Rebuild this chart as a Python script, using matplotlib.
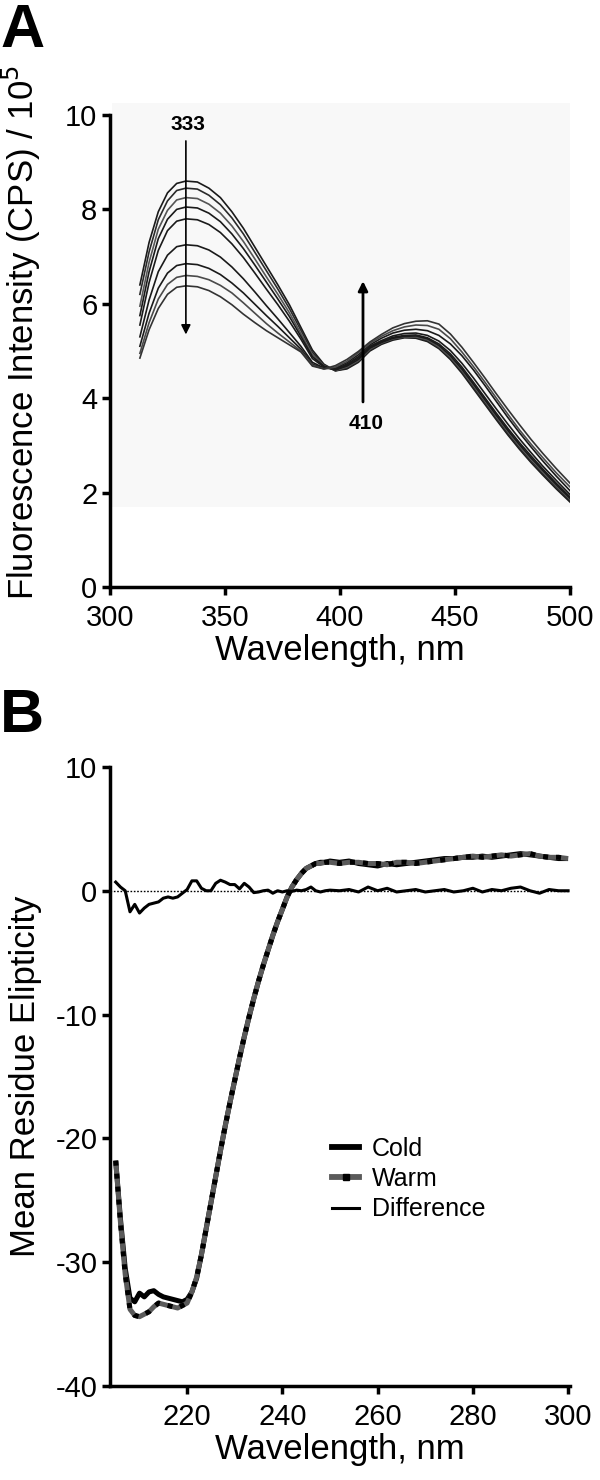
import matplotlib
matplotlib.use("Agg")
import matplotlib.pyplot as plt
from matplotlib.lines import Line2D

plt.rcParams['font.family'] = ['Liberation Sans', 'DejaVu Sans']
plt.rcParams['axes.unicode_minus'] = False

# ---------------- Panel A data: fluorescence titration ----------------
wl_a = [313, 317, 321, 325, 329, 333, 338, 343, 348, 353, 358, 363, 368, 373,
        378, 383, 388, 393, 398, 403, 408, 413, 418, 423, 428, 433, 438, 443,
        448, 453, 458, 463, 468, 473, 478, 483, 488, 494, 500]

fl_0 = [6.40, 7.30, 7.95, 8.35, 8.55, 8.60, 8.58, 8.45, 8.25, 7.95, 7.60, 7.20, 6.80, 6.40,
        5.98, 5.50, 5.02, 4.72, 4.58, 4.62, 4.76, 5.00, 5.14, 5.23, 5.28, 5.27, 5.20, 5.05,
        4.82, 4.53, 4.20, 3.87, 3.54, 3.22, 2.92, 2.64, 2.38, 2.08, 1.80]
fl_1 = [6.20, 7.10, 7.78, 8.18, 8.40, 8.45, 8.43, 8.30, 8.10, 7.82, 7.48, 7.09, 6.70, 6.31,
        5.90, 5.44, 4.97, 4.70, 4.58, 4.64, 4.78, 5.02, 5.16, 5.25, 5.29, 5.29, 5.22, 5.07,
        4.85, 4.56, 4.23, 3.90, 3.57, 3.25, 2.95, 2.67, 2.41, 2.11, 1.83]
fl_2 = [5.95, 6.88, 7.58, 7.98, 8.20, 8.25, 8.23, 8.11, 7.92, 7.65, 7.32, 6.95, 6.57, 6.20,
        5.81, 5.37, 4.92, 4.69, 4.59, 4.66, 4.80, 5.04, 5.17, 5.26, 5.30, 5.30, 5.24, 5.09,
        4.87, 4.59, 4.27, 3.94, 3.61, 3.29, 2.99, 2.71, 2.45, 2.14, 1.86]
fl_3 = [5.75, 6.68, 7.38, 7.79, 8.00, 8.05, 8.03, 7.92, 7.74, 7.48, 7.17, 6.82, 6.46, 6.10,
        5.73, 5.31, 4.88, 4.68, 4.60, 4.68, 4.82, 5.06, 5.18, 5.27, 5.31, 5.32, 5.26, 5.12,
        4.90, 4.62, 4.30, 3.97, 3.64, 3.32, 3.02, 2.74, 2.48, 2.17, 1.88]
fl_4 = [5.55, 6.45, 7.13, 7.55, 7.75, 7.80, 7.78, 7.68, 7.51, 7.27, 6.98, 6.65, 6.31, 5.98,
        5.63, 5.25, 4.84, 4.66, 4.60, 4.70, 4.85, 5.08, 5.20, 5.29, 5.33, 5.34, 5.28, 5.15,
        4.94, 4.66, 4.34, 4.01, 3.68, 3.36, 3.06, 2.78, 2.51, 2.20, 1.91]
fl_5 = [5.30, 6.08, 6.68, 7.03, 7.21, 7.25, 7.23, 7.14, 6.99, 6.78, 6.53, 6.25, 5.96, 5.68,
        5.39, 5.10, 4.76, 4.64, 4.62, 4.72, 4.88, 5.10, 5.22, 5.32, 5.37, 5.38, 5.33, 5.21,
        5.01, 4.74, 4.43, 4.10, 3.77, 3.45, 3.14, 2.85, 2.57, 2.26, 1.96]
fl_6 = [5.10, 5.80, 6.33, 6.65, 6.81, 6.85, 6.83, 6.75, 6.62, 6.44, 6.23, 5.99, 5.75, 5.52,
        5.28, 5.04, 4.72, 4.63, 4.64, 4.75, 4.92, 5.13, 5.27, 5.38, 5.44, 5.46, 5.43, 5.33,
        5.15, 4.90, 4.60, 4.27, 3.93, 3.59, 3.27, 2.97, 2.68, 2.35, 2.04]
fl_7 = [4.95, 5.60, 6.10, 6.41, 6.56, 6.60, 6.58, 6.51, 6.39, 6.23, 6.02, 5.80, 5.58, 5.38,
        5.19, 5.00, 4.70, 4.62, 4.66, 4.78, 4.96, 5.16, 5.31, 5.43, 5.51, 5.55, 5.54, 5.46,
        5.26, 4.98, 4.67, 4.34, 4.00, 3.66, 3.33, 3.03, 2.75, 2.42, 2.12]
fl_8 = [4.85, 5.45, 5.90, 6.20, 6.35, 6.38, 6.36, 6.28, 6.15, 5.98, 5.78, 5.60, 5.43, 5.28,
        5.13, 4.98, 4.68, 4.62, 4.69, 4.82, 4.99, 5.19, 5.35, 5.49, 5.58, 5.63, 5.64, 5.57,
        5.36, 5.08, 4.76, 4.43, 4.09, 3.76, 3.44, 3.13, 2.84, 2.51, 2.20]
fl_curves = [fl_0, fl_1, fl_2, fl_3, fl_4, fl_5, fl_6, fl_7, fl_8]
fl_colors = ['#1a1a1a', '#2a2a2a', '#555555', '#1a1a1a', '#1a1a1a',
             '#1a1a1a', '#1a1a1a', '#4a4a4a', '#333333']

arrow_down_x = 333
arrow_down_y = (9.45, 5.35)
arrow_up_x = 410
arrow_up_y = (3.92, 6.48)

# ---------------- Panel B data: CD spectra ----------------
wl_b = [205, 206, 207, 208, 209, 210, 211, 212, 213, 214, 215, 216, 217, 218, 219, 220,
        221, 222, 223, 224, 225, 226, 227, 228, 229, 230, 231, 232, 233, 234, 235, 236,
        237, 238, 239, 240, 241, 242, 243, 244, 245, 246, 247, 248, 249, 250,
        252, 254, 256, 258, 260, 262, 264, 266, 268, 270, 272, 274, 276, 278, 280,
        282, 284, 286, 288, 290, 292, 294, 296, 298, 300]

cold = [-21.8, -26.5, -30.5, -32.9, -33.2, -32.5, -32.8, -32.4, -32.3, -32.6, -32.8, -32.9,
        -33.0, -33.1, -33.2, -33.0, -32.4, -31.3, -29.4, -27.3, -25.2, -23.1, -21.0, -19.0,
        -17.1, -15.3, -13.5, -11.8, -10.2, -8.7, -7.3, -6.0, -4.8, -3.6, -2.5, -1.5, -0.5,
        0.3, 0.9, 1.4, 1.8, 2.0, 2.2, 2.3, 2.3, 2.4,
        2.3, 2.4, 2.2, 2.1, 2.0, 2.2, 2.1, 2.2, 2.3, 2.4, 2.5, 2.6, 2.6, 2.7, 2.7,
        2.8, 2.7, 2.8, 2.9, 3.0, 2.9, 2.8, 2.7, 2.6, 2.6]

warm = [-21.8, -26.8, -31.0, -33.8, -34.3, -34.4, -34.2, -34.0, -33.6, -33.3, -33.4, -33.5,
        -33.6, -33.7, -33.5, -33.3, -32.4, -31.2, -29.4, -27.3, -25.2, -23.1, -21.0, -19.0,
        -17.1, -15.3, -13.5, -11.8, -10.2, -8.7, -7.3, -6.0, -4.8, -3.6, -2.5, -1.5, -0.5,
        0.3, 0.9, 1.4, 1.8, 2.0, 2.2, 2.2, 2.3, 2.3,
        2.2, 2.3, 2.3, 2.2, 2.2, 2.1, 2.3, 2.3, 2.2, 2.3, 2.4, 2.5, 2.6, 2.7, 2.8,
        2.7, 2.8, 2.9, 2.8, 2.9, 3.0, 2.8, 2.7, 2.7, 2.6]

difference = [0.7, 0.3, 0.0, -1.7, -1.1, -1.8, -1.4, -1.1, -1.0, -0.9, -0.6, -0.5, -0.6,
              -0.5, -0.2, 0.1, 0.8, 0.8, 0.2, 0.0, 0.0, 0.6, 0.85, 0.7, 0.5, 0.5, 0.15,
              0.6, 0.3, -0.15, -0.1, 0.0, 0.05, -0.2, 0.0, -0.1, 0.0, -0.05, 0.05, 0.0,
              0.1, 0.3, 0.0, -0.1, 0.0, 0.05,
              0.0, 0.1, -0.1, 0.3, 0.0, 0.2, -0.1, 0.0, 0.1, -0.1, 0.0, 0.1, -0.1, 0.0,
              0.2, -0.1, 0.1, 0.0, 0.2, 0.3, 0.0, -0.2, 0.1, 0.0, 0.0]

legend_labels = ['Cold', 'Warm', 'Difference']

# ---------------- Figure ----------------
fig = plt.figure(figsize=(6.0, 14.8), dpi=100)
TICK_FS = 21
LABEL_FS = 25
SPINE_W = 2.5
WARM_GRAY = '#5a5a5a'


def style_axes(ax):
    for s in ['top', 'right']:
        ax.spines[s].set_visible(False)
    for s in ['left', 'bottom']:
        ax.spines[s].set_linewidth(SPINE_W)
    ax.tick_params(axis='both', which='major', direction='out', length=6,
                   width=SPINE_W, labelsize=TICK_FS)
    ax.tick_params(axis='x', pad=6)
    ax.tick_params(axis='y', pad=3)


# Panel A
axA = fig.add_axes([0.1833, 0.6034, 0.7667, 0.3189])
style_axes(axA)
axA.add_patch(plt.Rectangle((301, 1.7), 199, 8.55, facecolor='#f8f8f8',
                            edgecolor='none', zorder=0, clip_on=False))
for ys, col in zip(fl_curves, fl_colors):
    axA.plot(wl_a, ys, color=col, lw=1.2, zorder=2)
axA.set_xlim(300, 500)
axA.set_ylim(0, 10)
axA.set_xticks([300, 350, 400, 450, 500])
axA.set_yticks([0, 2, 4, 6, 8, 10])
axA.set_xlabel('Wavelength, nm', fontsize=LABEL_FS, labelpad=2)
axA.set_ylabel('Fluorescence Intensity (CPS) / 10$^{5}$', fontsize=LABEL_FS)
axA.yaxis.set_label_coords(-0.145, 0.54)
axA.annotate('', xy=(arrow_down_x, arrow_down_y[1]), xytext=(arrow_down_x, arrow_down_y[0]),
             arrowprops=dict(arrowstyle='-|>', color='black', lw=1.2,
                             mutation_scale=14, shrinkA=0, shrinkB=0), zorder=3)
axA.text(arrow_down_x + 1, arrow_down_y[0] + 0.15, '333', ha='center', va='bottom',
         fontsize=15, fontweight='bold')
axA.annotate('', xy=(arrow_up_x, arrow_up_y[1]), xytext=(arrow_up_x, arrow_up_y[0]),
             arrowprops=dict(arrowstyle='-|>', color='black', lw=2.0,
                             mutation_scale=14, shrinkA=0, shrinkB=0), zorder=3)
axA.text(arrow_up_x + 1.5, arrow_up_y[0] - 0.25, '410', ha='center', va='top',
         fontsize=15, fontweight='bold')
fig.text(0.0, 0.998, 'A', fontsize=44, fontweight='bold', ha='left', va='top')

# Panel B
axB = fig.add_axes([0.1833, 0.0635, 0.7667, 0.4183])
style_axes(axB)
axB.axhline(0, color='black', lw=1.0, ls=(0, (1.2, 1.2)), zorder=1)
axB.plot(wl_b, cold, color='black', lw=3.6, solid_capstyle='butt', zorder=3)
axB.plot(wl_b, warm, color=WARM_GRAY, lw=3.6, solid_capstyle='butt', zorder=4)
axB.plot(wl_b, warm, color='black', lw=3.6, ls=(0, (1.0, 1.6)),
         dash_capstyle='butt', zorder=5)
axB.plot(wl_b, difference, color='black', lw=2.2, zorder=6)
axB.set_xlim(203.8, 300.4)
axB.set_ylim(-40, 10)
axB.set_xticks([220, 240, 260, 280, 300])
axB.set_yticks([-40, -30, -20, -10, 0, 10])
axB.set_xlabel('Wavelength, nm', fontsize=LABEL_FS, labelpad=2)
axB.set_ylabel('Mean Residue Elipticity', fontsize=LABEL_FS)
axB.yaxis.set_label_coords(-0.148, 0.5)
fig.text(0.0, 0.535, 'B', fontsize=44, fontweight='bold', ha='left', va='top')

h_cold = Line2D([], [], color='black', lw=4.2)
h_warm = Line2D([], [], color=WARM_GRAY, lw=4.2, marker='s', markersize=4,
                markerfacecolor='black', markeredgecolor='black')
h_diff = Line2D([], [], color='black', lw=2.2)
axB.legend([h_cold, h_warm, h_diff], legend_labels, loc='center left',
           bbox_to_anchor=(250.4, -23.3), bbox_transform=axB.transData,
           frameon=False, fontsize=18, numpoints=1, borderpad=0, borderaxespad=0,
           handlelength=1.1, handletextpad=0.5, labelspacing=0.25)

fig.savefig('out.png', dpi=100)
